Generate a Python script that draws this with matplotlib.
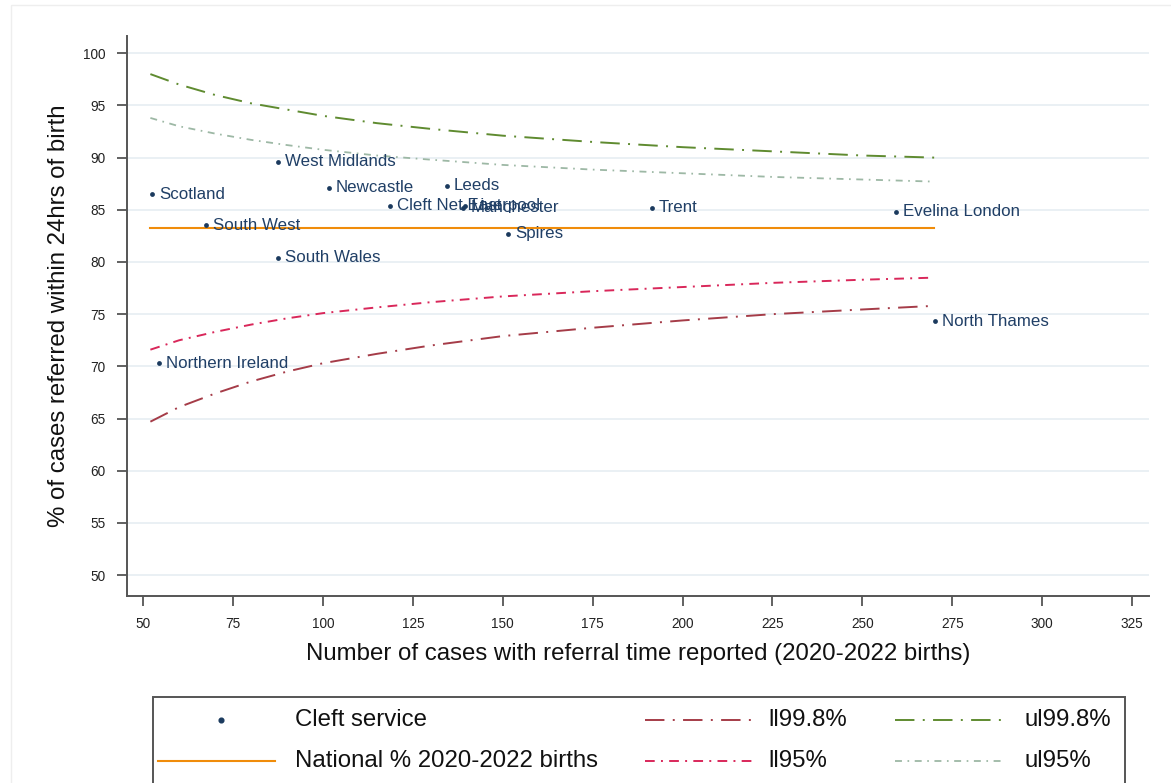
import matplotlib
matplotlib.use("Agg")
import matplotlib.pyplot as plt
from matplotlib.lines import Line2D
from matplotlib.patches import Rectangle

plt.rcParams['font.family'] = ['Liberation Sans', 'DejaVu Sans']
plt.rcParams['lines.scale_dashes'] = False

# Cleft services: number of cases with referral time reported and % referred within 24h
services = ["Scotland", "Northern Ireland", "South West", "West Midlands", "South Wales",
            "Newcastle", "Cleft Net East", "Leeds", "Manchester", "Liverpool",
            "Spires", "Trent", "Evelina London", "North Thames"]
cases = [52.5, 54.4, 67.5, 87.5, 87.5, 101.7, 118.7, 134.5, 139.0, 139.5,
         151.5, 191.5, 259.4, 270.2]
pct_24h = [86.5, 70.3, 83.5, 89.6, 80.4, 87.1, 85.4, 87.3, 85.2, 85.4,
           82.7, 85.2, 84.8, 74.3]

# National percentage (2020-2022 births)
national_pct = 83.3
national_n = [52, 270]

# Funnel control limits
limit_n = [52, 60, 70, 80, 90, 100, 115, 130, 150, 175, 200, 225, 250, 270]
ul998 = [98.0, 97.0, 96.0, 95.2, 94.6, 94.0, 93.3, 92.75, 92.1, 91.5, 91.0, 90.6, 90.2, 90.0]
ul95 = [93.8, 93.0, 92.3, 91.7, 91.2, 90.75, 90.2, 89.8, 89.3, 88.85, 88.5, 88.15, 87.9, 87.7]
ll95 = [71.6, 72.5, 73.3, 74.0, 74.6, 75.1, 75.65, 76.15, 76.7, 77.2, 77.6, 78.0, 78.3, 78.5]
ll998 = [64.7, 66.1, 67.4, 68.55, 69.5, 70.3, 71.2, 72.0, 72.9, 73.7, 74.4, 75.0, 75.45, 75.8]

x_ticks = list(range(50, 326, 25))
y_ticks = list(range(50, 101, 5))

W, H = 1171, 783
fig = plt.figure(figsize=(W / 100, H / 100), dpi=100)
fig.patch.set_facecolor('white')

# faint outer frame
fig.add_artist(Rectangle((11 / W, -0.1), 1.2, 1 - 5 / H + 0.1, transform=fig.transFigure,
                         fill=False, edgecolor='#eeeeee', linewidth=1.0))

ax = fig.add_axes([127 / W, 1 - 596 / H, (1149 - 127) / W, (596 - 36) / H])
ax.set_xlim(45.5, 329.7)
ax.set_ylim(48.0, 101.65)

C_LL998 = '#a53c48'
C_UL998 = '#5f8b30'
C_LL95 = '#d9275a'
C_UL95 = '#9db8a5'
C_NAT = '#f08c0a'
C_PT = '#1b3a5e'

STY_LL998 = (0, (14, 6, 1.4, 6))
STY_UL998 = (0, (14, 6, 1.4, 6))
STY_LL95 = (0, (7, 4.5, 1.4, 4.5))
STY_UL95 = (0, (5, 4, 1.2, 4))

for y in y_ticks:
    ax.axhline(y, color='#e8eff3', linewidth=1.3, zorder=0)

ax.plot(limit_n, ul998, color=C_UL998, linewidth=1.4, linestyle=STY_UL998, zorder=2)
ax.plot(limit_n, ul95, color=C_UL95, linewidth=1.3, linestyle=STY_UL95, zorder=2)
ax.plot(limit_n, ll95, color=C_LL95, linewidth=1.4, linestyle=STY_LL95, zorder=2)
ax.plot(limit_n, ll998, color=C_LL998, linewidth=1.4, linestyle=STY_LL998, zorder=2)
ax.plot(national_n, [national_pct, national_pct], color=C_NAT, linewidth=1.5, zorder=2)

ax.scatter(cases, pct_24h, s=12, color=C_PT, zorder=4, linewidths=0)
for name, xv, yv in zip(services, cases, pct_24h):
    ax.annotate(name, (xv, yv), xytext=(5, 0), textcoords='offset points',
                ha='left', va='center', fontsize=12.2, color='#203f66', zorder=5)

for side in ('top', 'right'):
    ax.spines[side].set_visible(False)
for side in ('left', 'bottom'):
    ax.spines[side].set_color('#555555')
    ax.spines[side].set_linewidth(1.4)

ax.set_xticks(x_ticks)
ax.set_yticks(y_ticks)
ax.tick_params(axis='both', length=7, width=1.3, color='#555555', labelsize=9.8,
               labelcolor='#222222')
ax.tick_params(axis='y', pad=8.5)
ax.tick_params(axis='x', pad=8)

ax.set_xlabel("Number of cases with referral time reported (2020-2022 births)",
              fontsize=17.3, color='#111111', labelpad=9)
ax.set_ylabel("% of cases referred within 24hrs of birth",
              fontsize=17.3, color='#111111', labelpad=9)

# legend panel
def fx(px):
    return px / W

def fy(py):
    return 1 - py / H

fig.add_artist(Rectangle((fx(153), fy(800)), fx(1125) - fx(153), fy(697) - fy(800),
                         transform=fig.transFigure, fill=False,
                         edgecolor='#555555', linewidth=1.4))

row1, row2 = 720, 761
fig.add_artist(Line2D([fx(221)], [fy(row1)], marker='o', markersize=3.4, color=C_PT,
                      linestyle='none', transform=fig.transFigure))
fig.add_artist(Line2D([fx(158), fx(275)], [fy(row2)] * 2, color=C_NAT, linewidth=1.5,
                      transform=fig.transFigure))
fig.add_artist(Line2D([fx(645), fx(754)], [fy(row1)] * 2, color=C_LL998, linewidth=1.4,
                      linestyle=STY_LL998, transform=fig.transFigure))
fig.add_artist(Line2D([fx(895), fx(1002)], [fy(row1)] * 2, color=C_UL998, linewidth=1.4,
                      linestyle=STY_UL998, transform=fig.transFigure))
fig.add_artist(Line2D([fx(645), fx(754)], [fy(row2)] * 2, color=C_LL95, linewidth=1.4,
                      linestyle=STY_LL95, transform=fig.transFigure))
fig.add_artist(Line2D([fx(895), fx(1002)], [fy(row2)] * 2, color=C_UL95, linewidth=1.3,
                      linestyle=STY_UL95, transform=fig.transFigure))

leg_fs = 17.3
for txt, px, py in [("Cleft service", 295, row1), ("ll99.8%", 768, row1), ("ul99.8%", 1025, row1),
                    ("National % 2020-2022 births", 295, row2), ("ll95%", 768, row2),
                    ("ul95%", 1025, row2)]:
    fig.text(fx(px), fy(py), txt, fontsize=leg_fs, color='#111111', ha='left', va='center')

fig.savefig("out.png", dpi=100, facecolor='white')
